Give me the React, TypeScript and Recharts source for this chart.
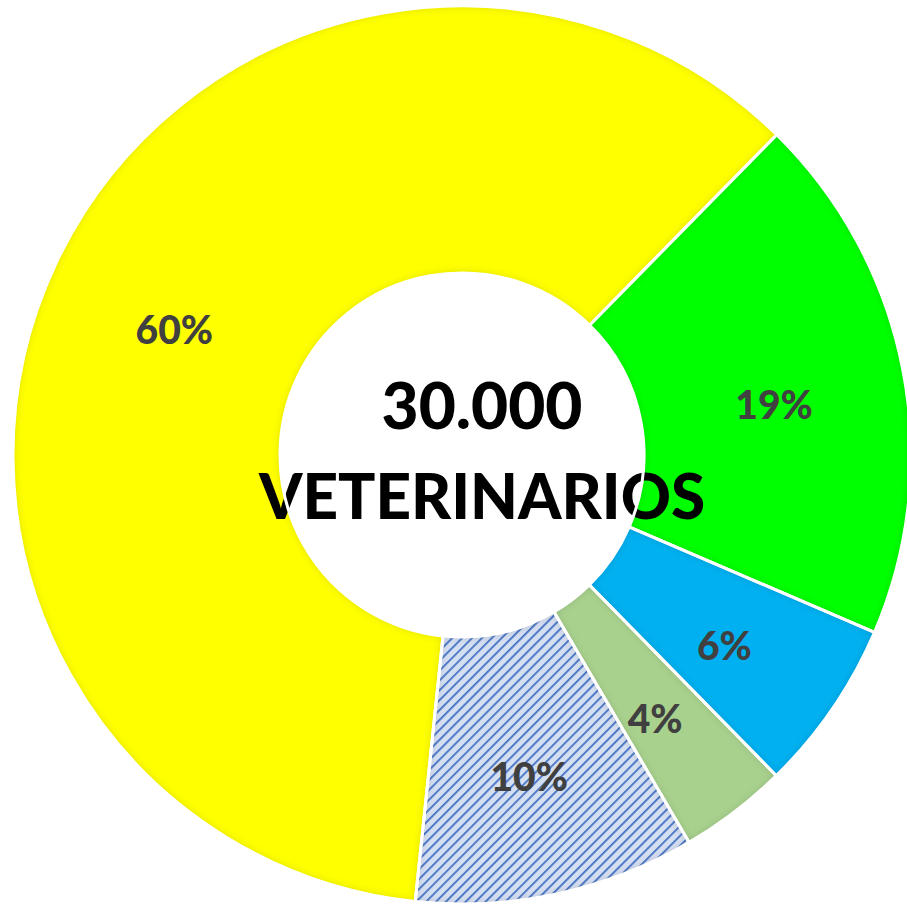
import { Cell, Label, Pie, PieChart } from "recharts";

// slice order runs clockwise from the yellow/green boundary (top right)
const categories = ["Grupo B", "Grupo C", "Grupo D", "Grupo E", "Grupo A"];
const shares = [19.1, 6.2, 3.9, 10.1, 60.7];
const shareLabels = ["19%", "6%", "4%", "10%", "60%"];
const sliceColors = ["#00FF00", "#00B0F0", "#A9D18E", "url(#hatch)", "#FFFF00"];

const totalLine1 = "30.000";
const totalLine2 = "VETERINARIOS";

const data = categories.map((name, i) => ({
  name,
  value: shares[i],
  label: shareLabels[i]
}));

const CX = 462;
const CY = 455;
const RAD = Math.PI / 180;
const FONT = "Lato, 'Open Sans', sans-serif";

function SliceLabel(props: any) {
  const { cx, cy, midAngle, index } = props;
  const r = 318;
  const x = cx + r * Math.cos(-midAngle * RAD);
  const y = cy + r * Math.sin(-midAngle * RAD) + 10;
  return (
    <text
      x={x}
      y={y}
      textAnchor="middle"
      dominantBaseline="central"
      fill="#404040"
      fontFamily={FONT}
      fontWeight={900}
      fontSize={39}
    >
      {shareLabels[index]}
    </text>
  );
}

function CenterText() {
  return (
    <g fontFamily={FONT} fontWeight={900} fill="#000" textAnchor="middle">
      <text x={CX + 20} y={CY - 51} fontSize={64} dominantBaseline="central">
        {totalLine1}
      </text>
      <text x={CX + 20} y={CY + 40} fontSize={62} dominantBaseline="central">
        {totalLine2}
      </text>
    </g>
  );
}

export default function App() {
  return (
    <div style={{ position: "absolute", left: 0, top: 0, background: "#fff" }}>
      <PieChart width={907} height={909} margin={{ top: 0, right: 0, bottom: 0, left: 0 }}>
        <defs>
          <pattern id="hatch" width="7" height="7" patternUnits="userSpaceOnUse" patternTransform="rotate(45)">
            <rect width="7" height="7" fill="#D5DFF2" />
            <line x1="0" y1="0" x2="0" y2="7" stroke="#4472C4" strokeWidth="3.6" />
          </pattern>
          <filter id="innerShade" x="-10%" y="-10%" width="120%" height="120%">
            <feGaussianBlur in="SourceAlpha" stdDeviation="4" result="blur" />
            <feComposite in="SourceAlpha" in2="blur" operator="arithmetic" k2="1" k3="-1" result="edge" />
            <feFlood floodColor="#000" floodOpacity="0.35" />
            <feComposite in2="edge" operator="in" result="shade" />
            <feMerge>
              <feMergeNode in="SourceGraphic" />
              <feMergeNode in="shade" />
            </feMerge>
          </filter>
        </defs>
        <Pie
          data={data}
          dataKey="value"
          nameKey="name"
          cx={CX}
          cy={CY}
          innerRadius={182}
          outerRadius={449}
          startAngle={45.5}
          endAngle={45.5 - 360}
          stroke="none"
          label={SliceLabel}
          labelLine={false}
          isAnimationActive={false}
        >
          {data.map((d, i) => (
            <Cell key={d.name} fill={sliceColors[i]} filter="url(#innerShade)" />
          ))}
          <Label content={CenterText} position="center" />
        </Pie>
        <Pie
          data={data}
          dataKey="value"
          cx={CX}
          cy={CY}
          innerRadius={182}
          outerRadius={449}
          startAngle={45.5}
          endAngle={45.5 - 360}
          fill="none"
          stroke="#fff"
          strokeWidth={3}
          isAnimationActive={false}
        />
      </PieChart>
    </div>
  );
}
